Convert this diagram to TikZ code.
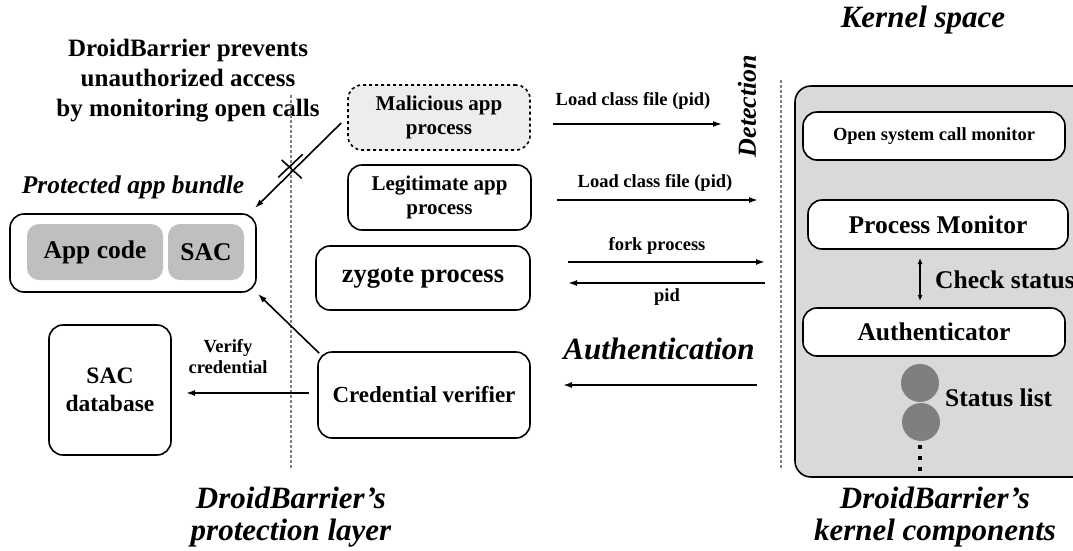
\documentclass[tikz,border=0pt]{standalone}
\usepackage{fontspec}
\setmainfont{Liberation Serif}
\usetikzlibrary{arrows.meta}
\definecolor{boxgray}{HTML}{BFBFBF}
\definecolor{kerngray}{HTML}{D9D9D9}
\definecolor{malgray}{HTML}{EDEDED}
\definecolor{dotgray}{HTML}{7F7F7F}
\definecolor{linegray}{HTML}{808080}
\begin{document}
\begin{tikzpicture}[x=1pt,y=-1pt,
  rbox/.style={draw, line width=1.6pt, rounded corners=14pt, align=center, font=\bfseries, inner sep=0pt},
  inbox/.style={fill=boxgray, rounded corners=12pt, font=\bfseries\fontsize{25.5}{28}\selectfont, inner sep=0pt},
  conn/.style={line width=1.6pt, -{Latex[length=9pt,width=6pt]}},
  lbl/.style={font=\bfseries\fontsize{18.5}{21}\selectfont, inner sep=0pt},
  bigit/.style={font=\bfseries\itshape\fontsize{31}{32}\selectfont, align=center, inner sep=0pt},
  divider/.style={draw=linegray, line width=1.4pt, dash pattern=on 3pt off 2pt}
]
\clip (0,0) rectangle (1073,550);

% section titles
\node[bigit] (kspace) at (923,20) {Kernel space};
\node[font=\bfseries\fontsize{25}{30}\selectfont, align=center, inner sep=0pt] (claim) at (188,81)
  {DroidBarrier prevents\\unauthorized access\\by monitoring open calls};

% dividers between layers
\coordinate (d1t) at (291,95);  \coordinate (d1b) at (291,470);
\coordinate (d2t) at (781,80);  \coordinate (d2b) at (781,470);
\draw[divider] (d1t) -- (d1b);
\draw[divider] (d2t) -- (d2b);

% kernel component panel
\node[draw, line width=1.6pt, fill=kerngray, rounded corners=16pt, minimum width=300pt, minimum height=391pt] (kernel) at (945,281.5) {};
\node[rbox, fill=white, minimum width=262pt, minimum height=48pt, font=\bfseries\fontsize{18.5}{21}\selectfont] (osc) at (934,136) {Open system call monitor};
\node[rbox, fill=white, minimum width=260pt, minimum height=49pt, font=\bfseries\fontsize{25.5}{28}\selectfont] (pm) at (938,224.5) {Process Monitor};
\node[rbox, fill=white, minimum width=262pt, minimum height=48pt, font=\bfseries\fontsize{25.5}{28}\selectfont] (auth) at (934,332) {Authenticator};
\coordinate (cs1) at (920,258); \coordinate (cs2) at (920,301);
\draw[line width=1.4pt, {Latex[length=6pt,width=5pt]}-{Latex[length=6pt,width=5pt]}] (cs1) -- (cs2);
\node[anchor=west, font=\bfseries\fontsize{25.5}{28}\selectfont, inner sep=0pt] (cslbl) at (935,280) {Check status};
\node[circle, fill=dotgray, minimum size=38pt, inner sep=0pt] (st1) at (920,383) {};
\node[circle, fill=dotgray, minimum size=38pt, inner sep=0pt] (st2) at (921,422) {};
\node[anchor=west, font=\bfseries\fontsize{25.5}{28}\selectfont, inner sep=0pt] (stlbl) at (945,398) {Status list};
\foreach \yy in {447,458,469} \fill (918.2,\yy-1.8) rectangle ++(3.6,3.6);

% user-space processes
\node[rbox, dashed, fill=malgray, minimum width=182pt, minimum height=65pt, font=\bfseries\fontsize{21}{24}\selectfont] (mal) at (439,117.5) {Malicious app\\process};
\node[rbox, minimum width=183pt, minimum height=65pt, font=\bfseries\fontsize{21}{24}\selectfont] (legit) at (439.5,197.5) {Legitimate app\\process};
\node[rbox, minimum width=214pt, minimum height=64pt, font=\bfseries\fontsize{26.5}{29}\selectfont] (zyg) at (423,278) {zygote process};
\node[rbox, minimum width=212pt, minimum height=86pt, font=\bfseries\fontsize{23}{26}\selectfont] (cred) at (424,395) {Credential verifier};

% protected bundle and credential store
\node[font=\bfseries\itshape\fontsize{25.5}{28}\selectfont, inner sep=0pt] (pablbl) at (133,187) {Protected app bundle};
\node[rbox, minimum width=246pt, minimum height=78pt] (bundle) at (133,253) {};
\node[inbox, minimum width=136pt, minimum height=56pt] (appcode) at (95,252) {App code};
\node[inbox, minimum width=76pt, minimum height=56pt] (sac) at (206,252) {SAC};
\node[rbox, minimum width=122pt, minimum height=130pt, font=\bfseries\fontsize{23.5}{28}\selectfont] (sacdb) at (110,390) {SAC\\database};

% process to kernel messages
\coordinate (l1s) at (553,124); \coordinate (l1e) at (722,124);
\draw[conn] (l1s) -- (l1e);
\node[lbl] (l1lbl) at (633,101) {Load class file (pid)};
\node[font=\bfseries\itshape\fontsize{26}{28}\selectfont, rotate=90, inner sep=0pt] (detect) at (747,106) {Detection};

\coordinate (l2s) at (557,200); \coordinate (l2e) at (758,200);
\draw[conn] (l2s) -- (l2e);
\node[lbl] (l2lbl) at (655,183) {Load class file (pid)};

\coordinate (fks) at (568,262); \coordinate (fke) at (765,262);
\draw[conn] (fks) -- (fke);
\node[lbl] (fklbl) at (657,246) {fork process};

\coordinate (pds) at (765,283); \coordinate (pde) at (568,283);
\draw[conn] (pds) -- (pde);
\node[lbl] (pdlbl) at (667,297) {pid};

\coordinate (aus) at (757,385); \coordinate (aue) at (563,385);
\draw[conn] (aus) -- (aue);
\node[font=\bfseries\itshape\fontsize{31}{33}\selectfont, inner sep=0pt] (authlbl) at (659,349) {Authentication};

% protection-layer links
\coordinate (vfe) at (186,393);
\draw[conn] (cred.west |- 0,393) ++(-8,0) coordinate (vfs) -- (vfe);
\node[font=\bfseries\fontsize{18.5}{21}\selectfont, align=center, inner sep=0pt] (vflbl) at (228,357) {Verify\\credential};
\coordinate (bndl1) at (258,294);
\draw[conn] (cred.north west) ++(2,2) coordinate (cvs) -- (bndl1);
\coordinate (maltip) at (255,208);
\draw[conn] (mal.west |- 0,123) ++(-6,0) coordinate (malstart) -- (maltip);
% blocked-access mark
\draw[line width=1.6pt] (281.7,160) -- (301.7,178.3);
\draw[line width=1.6pt] (278.3,177.3) -- (302.7,154.3);

% layer captions
\node[bigit] (protcap) at (291,517) {DroidBarrier's\\protection layer};
\node[bigit] (kerncap) at (935,517) {DroidBarrier's\\kernel components};
\end{tikzpicture}
\end{document}
